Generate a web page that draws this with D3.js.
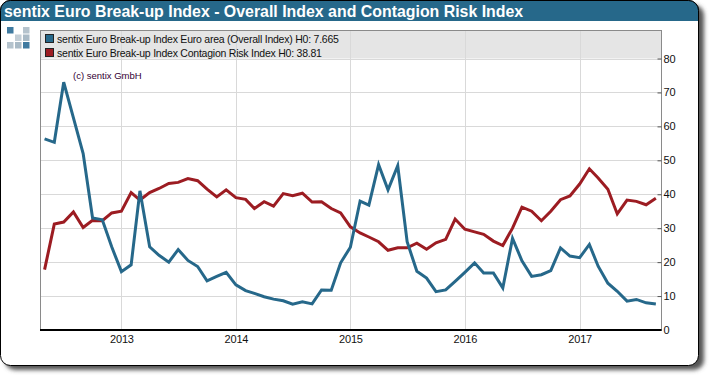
<!DOCTYPE html>
<html>
<head>
<meta charset="utf-8">
<script src="https://cdn.jsdelivr.net/npm/d3@7"></script>
<style>
  html, body { margin: 0; padding: 0; background: #fff; }
  svg { display: block; font-family: "Liberation Sans", Arial, sans-serif; }
  .tick text { fill: #111; font-size: 11px; }
</style>
</head>
<body>
<div id="chart"></div>
<script>
// --------------------------------------
//  Data
// --------------------------------------

const titleText = "sentix Euro Break-up Index - Overall Index and Contagion Risk Index";
const legendLabels = [
  "sentix Euro Break-up Index Euro area (Overall Index) H0: 7.665",
  "sentix Euro Break-up Index Contagion Risk Index H0: 38.81"
];
const seriesColors = ["#26688a", "#9c1c22"];
const yTicks = [0, 10, 20, 30, 40, 50, 60, 70, 80];
const yearTicks = [2013, 2014, 2015, 2016, 2017];

// monthly, May 2012 to Sep 2017
const overallIndex = [
  56.3, 55.3, 73, 62.5, 52, 33, 32.5, 24.5,
  17.2, 19.2, 41, 24.5, 22, 20, 23.7, 20.5, 18.7, 14.5, 15.8, 17,
  13.3, 11.6, 10.8, 9.8, 9.1, 8.6, 7.6, 8.3, 7.7, 11.8, 11.7, 19.8,
  24.4, 38, 36.8, 48.7, 41.3, 48.4, 26, 17.3, 15.3, 11.3, 11.8, 14.3,
  17, 19.8, 16.8, 16.8, 12.4, 27, 20.4, 15.8, 16.3, 17.5, 24.2, 21.8,
  21.3, 25.2, 18.8, 13.8, 11.4, 8.5, 9, 8, 7.665
];
const contagionIndex = [
  17.8, 31.2, 31.8, 34.8, 30.2, 32.3, 32.2, 34.5,
  35, 40.5, 38.3, 40.5, 41.7, 43.2, 43.5, 44.6, 44, 41.5, 39.2, 41.3,
  39, 38.5, 35.8, 37.8, 36.5, 40.2, 39.6, 40.3, 37.7, 37.8, 35.8, 34.5,
  30.4, 28.6, 27.4, 26, 23.5, 24.2, 24.2, 25.6, 23.8, 25.7, 26.7, 32.7,
  29.7, 28.9, 28.2, 26.2, 24.9, 30, 36.2, 35, 32.2, 35, 38.4, 39.5,
  43, 47.5, 44.8, 41.5, 34.2, 38.3, 37.9, 36.9, 38.81
];
const months = overallIndex.map((d, i) => new Date(2012, 4 + i, 1));

// --------------------------------------
//  Margin and canvas
// --------------------------------------

const width = 710;
const height = 376;
const plot = {left: 40.5, right: 661.5, top: 30.5, bottom: 330};

const svg = d3.select("#chart")
  .append("svg")
    .attr("width", width)
    .attr("height", height);

const defs = svg.append("defs");
defs.append("filter")
    .attr("id", "blur")
    .attr("x", "-5%").attr("y", "-5%")
    .attr("width", "110%").attr("height", "110%")
  .append("feGaussianBlur")
    .attr("stdDeviation", 2);
defs.append("clipPath")
    .attr("id", "head")
  .append("rect")
    .attr("x", 0).attr("y", 0)
    .attr("width", width).attr("height", 21);

// --------------------------------------
//  Card
// --------------------------------------

svg.append("rect")
    .attr("x", 5).attr("y", 5)
    .attr("width", 699).attr("height", 365)
    .attr("rx", 10)
    .attr("fill", "#555")
    .attr("filter", "url(#blur)");

svg.append("rect")
    .attr("x", 0.5).attr("y", 0.5)
    .attr("width", 698).attr("height", 365)
    .attr("rx", 10)
    .attr("fill", "#fff")
    .attr("stroke", "#000");

svg.append("rect")
    .attr("x", 0.5).attr("y", 0.5)
    .attr("width", 698).attr("height", 365)
    .attr("rx", 10)
    .attr("fill", seriesColors[0])
    .attr("stroke", "#000")
    .attr("clip-path", "url(#head)");

svg.append("text")
    .attr("x", 4).attr("y", 17)
    .attr("fill", "#fff")
    .attr("font-size", 15.9)
    .attr("font-weight", "bold")
    .text(titleText);

// --------------------------------------
//  Logo
// --------------------------------------

const logoCells = [
  {col: 0, row: 0, fill: "#3f7aa0"}, {col: 2, row: 0, fill: "#b5c3cd"},
  {col: 1, row: 1, fill: "#c3ced6"}, {col: 2, row: 1, fill: "#a9bac6"},
  {col: 0, row: 2, fill: "#b5c3cd"}, {col: 1, row: 2, fill: "#a9bac6"},
  {col: 2, row: 2, fill: "#3f7aa0"}
];

svg.append("g")
    .selectAll("rect")
    .data(logoCells)
    .join("rect")
    .attr("x", d => 7 + d.col * 8)
    .attr("y", d => 27 + d.row * 7.5)
    .attr("width", 6.5)
    .attr("height", 6.5)
    .attr("fill", d => d.fill);

// --------------------------------------
//  Scales
// --------------------------------------

const x = d3.scaleTime()
    .domain([new Date(2012, 3, 18), new Date(2017, 8, 19)])
    .range([plot.left, plot.right]);

const y = d3.scaleLinear()
    .domain([0, 80])
    .range([plot.bottom, 58.5]);

const yearDates = yearTicks.map(d => new Date(d, 0, 1));

// --------------------------------------
//  Legend band, grid, axes
// --------------------------------------

svg.append("rect")
    .attr("x", plot.left).attr("y", plot.top)
    .attr("width", plot.right - plot.left)
    .attr("height", y(80) - plot.top)
    .attr("fill", "#e5e5e5");

svg.append("g")
    .selectAll("line")
    .data(yTicks.filter(d => d > 0))
    .join("line")
    .attr("x1", plot.left).attr("x2", plot.right)
    .attr("y1", d => Math.round(y(d)) + 0.5)
    .attr("y2", d => Math.round(y(d)) + 0.5)
    .attr("stroke", "#d9d9d9");

svg.append("g")
    .selectAll("line")
    .data(yearDates)
    .join("line")
    .attr("x1", d => Math.round(x(d)) + 0.5)
    .attr("x2", d => Math.round(x(d)) + 0.5)
    .attr("y1", plot.top).attr("y2", plot.bottom)
    .attr("stroke", "#d9d9d9");

svg.append("rect")
    .attr("x", plot.left).attr("y", plot.top)
    .attr("width", plot.right - plot.left)
    .attr("height", plot.bottom - plot.top)
    .attr("fill", "none")
    .attr("stroke", "#8a8a8a");

const yAxis = svg.append("g")
    .attr("transform", `translate(${plot.right}, 0)`)
    .call(d3.axisRight(y).tickValues(yTicks).tickSizeInner(-4).tickSizeOuter(0).tickPadding(2));
yAxis.select(".domain").remove();
yAxis.selectAll(".tick line").attr("stroke", "#555");

const xAxis = svg.append("g")
    .attr("transform", `translate(0, ${plot.bottom})`)
    .call(d3.axisBottom(x)
        .tickValues(yearDates)
        .tickFormat(d3.timeFormat("%Y"))
        .tickSize(0)
        .tickPadding(5));
xAxis.select(".domain").remove();
xAxis.selectAll(".tick line").remove();
xAxis.selectAll(".tick text").attr("letter-spacing", -0.2);

svg.append("line")
    .attr("x1", plot.left - 0.5).attr("x2", plot.right)
    .attr("y1", plot.bottom).attr("y2", plot.bottom)
    .attr("stroke", "#000")
    .attr("stroke-width", 2);

// --------------------------------------
//  Legend
// --------------------------------------

const legend = svg.append("g")
    .selectAll("g")
    .data(legendLabels)
    .join("g")
    .attr("transform", (d, i) => `translate(45, ${34 + i * 14})`);

legend.append("rect")
    .attr("x", 0.5).attr("y", 0.5)
    .attr("width", 8).attr("height", 8)
    .attr("fill", (d, i) => seriesColors[i])
    .attr("stroke", "#222");

legend.append("text")
    .attr("x", 12).attr("y", 8.5)
    .attr("font-size", 10.5)
    .attr("letter-spacing", -0.23)
    .attr("fill", "#111")
    .text(d => d);

svg.append("text")
    .attr("x", 73).attr("y", 79)
    .attr("font-size", 9.5)
    .attr("fill", "#303")
    .text("(c) sentix GmbH");

// --------------------------------------
//  Lines
// --------------------------------------

const line = d3.line()
    .x((d, i) => x(months[i]))
    .y(d => y(d));

svg.append("g")
    .selectAll("path")
    .data([contagionIndex, overallIndex])
    .join("path")
    .attr("d", line)
    .attr("fill", "none")
    .attr("stroke", (d, i) => seriesColors[1 - i])
    .attr("stroke-width", 3)
    .attr("stroke-linejoin", "miter");
</script>
</body>
</html>
